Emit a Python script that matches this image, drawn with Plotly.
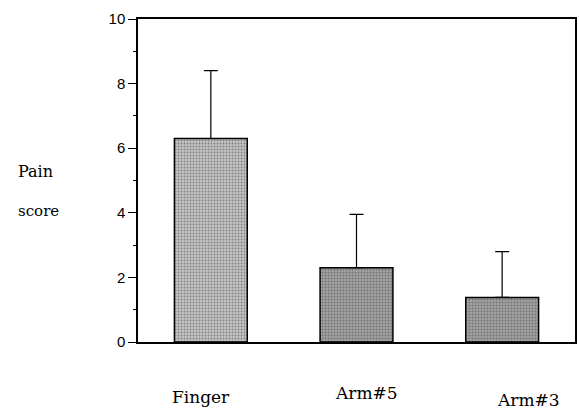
import plotly.graph_objects as go

categories = ["Finger", "Arm#5", "Arm#3"]
means = [6.3, 2.3, 1.38]
sd_upper = [2.1, 1.65, 1.42]
y_ticks = [0, 2, 4, 6, 8, 10]

bar_bg = ["#c4c4c4", "#a2a2a2", "#a2a2a2"]
bar_fg = ["#6a6a6a", "#4a4a4a", "#4a4a4a"]
label_shift = [-10, 10, 26]
label_yshift = [-55, -51, -58]

fig = go.Figure()
fig.add_trace(go.Bar(
    x=categories, y=means,
    marker=dict(
        color=bar_bg,
        line=dict(color="black", width=1.5),
        pattern=dict(shape=".", fgcolor=bar_fg, bgcolor=bar_bg, size=3, solidity=0.35, fillmode="overlay"),
    ),
    error_y=dict(type="data", symmetric=False, array=sd_upper, arrayminus=[0, 0, 0],
                 color="black", thickness=1.2, width=7),
    showlegend=False,
))

for i, c in enumerate(categories):
    fig.add_annotation(x=c, y=0, xref="x", yref="y", text=c, showarrow=False,
                       xshift=label_shift[i], yshift=label_yshift[i],
                       font=dict(family="DejaVu Serif", size=17, color="black"))

fig.add_annotation(x=15, y=171, xref="paper", yref="paper", text="Pain", showarrow=False,
                   xanchor="left", yanchor="middle",
                   font=dict(family="DejaVu Serif", size=16, color="black"))
fig.add_annotation(x=15, y=211, xref="paper", yref="paper", text="score", showarrow=False,
                   xanchor="left", yanchor="middle",
                   font=dict(family="DejaVu Serif", size=15, color="black"))

# convert pixel positions of side labels to paper coords
L, R, T, B = 138, 2, 19, 69
W, H = 579, 411
pw, ph = W - L - R, H - T - B
for a in fig.layout.annotations:
    if a.xref == "paper":
        a.x = (a.x - L) / pw
        a.y = (H - B - a.y) / ph

fig.update_layout(
    width=W, height=H,
    margin=dict(l=L, r=R, t=T, b=B),
    paper_bgcolor="white", plot_bgcolor="white",
    bargap=0.5,
    xaxis=dict(showticklabels=False, ticks="", showgrid=False, zeroline=False,
               showline=True, linecolor="black", linewidth=1.5, mirror=True,
               range=[-0.5, 2.5]),
    yaxis=dict(range=[0, 10], tickvals=y_ticks, ticks="outside", ticklen=8, tickwidth=1.2,
               tickcolor="black", showgrid=False, zeroline=False,
               showline=True, linecolor="black", linewidth=1.5, mirror=True,
               tickfont=dict(family="Liberation Sans", size=15, color="black"),
               minor=dict(dtick=1, ticks="outside", ticklen=3, tickcolor="black", showgrid=False)),
)

fig.write_html("out.html")
